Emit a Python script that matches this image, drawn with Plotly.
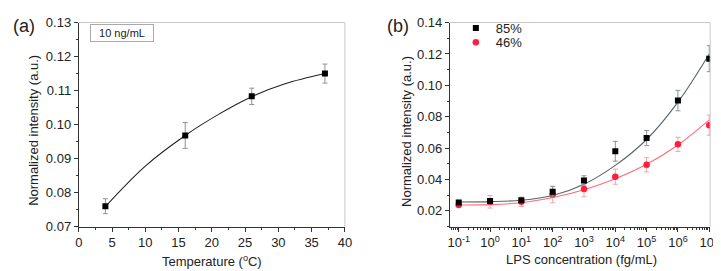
import plotly.graph_objects as go

# ---------------- data: panel (a) ----------------
temp_c = [4, 16, 26, 37]
temp_int = [0.0760, 0.0968, 0.1083, 0.1150]
temp_err = [0.0022, 0.0038, 0.0024, 0.0028]
# fitted curve
fit_a_x = [4, 10, 16, 21, 26, 31, 37]
fit_a_y = [0.0759, 0.0878, 0.0968, 0.1030, 0.1082, 0.1120, 0.1150]

# ---------------- data: panel (b) ----------------
lps_conc = [1e-1, 1e0, 1e1, 1e2, 1e3, 1e4, 1e5, 1e6, 1e7]
int_85 = [0.0254, 0.0263, 0.0268, 0.0322, 0.0394, 0.0580, 0.0664, 0.0903, 0.1170]
err_85 = [0.0008, 0.0010, 0.0010, 0.0034, 0.0030, 0.0063, 0.0048, 0.0065, 0.0083]
int_46 = [0.0238, 0.0258, 0.0258, 0.0304, 0.0340, 0.0418, 0.0494, 0.0624, 0.0746]
err_46 = [0.0010, 0.0040, 0.0030, 0.0052, 0.0050, 0.0048, 0.0045, 0.0045, 0.0064]
fit_85 = [0.0257, 0.0259, 0.0268, 0.0298, 0.0370, 0.0490, 0.0655, 0.0893, 0.1200]
fit_46 = [0.0238, 0.0240, 0.0252, 0.0285, 0.0335, 0.0405, 0.0497, 0.0620, 0.0780]
series_names = ["85%", "46%"]
log_tick_vals = [1e-1, 1e0, 1e1, 1e2, 1e3, 1e4, 1e5, 1e6, 1e7]
log_tick_text = ["10<sup>-1</sup>", "10<sup>0</sup>", "10<sup>1</sup>", "10<sup>2</sup>",
                 "10<sup>3</sup>", "10<sup>4</sup>", "10<sup>5</sup>", "10<sup>6</sup>",
                 "10<sup>7</sup>"]
minor_log_vals = [k * 10.0 ** n for n in range(-2, 8) for k in range(2, 10)]

FONT = "Liberation Sans, Arial, sans-serif"
AX = "#333333"
FRAME = "#c8c8c8"
BLACK_ERR = "#8a9494"
RED = "#ff1f3d"
RED_ERR = "#f6a3a8"
BLACK_FIT = "#56646a"
RED_FIT = "#ff6b74"

fig = go.Figure()

# panel (a)
fig.add_trace(go.Scatter(x=fit_a_x, y=fit_a_y, mode="lines", line=dict(color="#222222", width=1.1, shape="spline"),
                         xaxis="x", yaxis="y", showlegend=False, hoverinfo="skip"))
fig.add_trace(go.Scatter(x=temp_c, y=temp_int, mode="markers",
                         marker=dict(symbol="square", size=6, color="black"),
                         error_y=dict(type="data", array=temp_err, color=BLACK_ERR, thickness=1, width=2.5),
                         xaxis="x", yaxis="y", showlegend=False))

# panel (b)
fig.add_trace(go.Scatter(x=lps_conc, y=fit_85, mode="lines", line=dict(color=BLACK_FIT, width=1.1, shape="spline"),
                         xaxis="x2", yaxis="y2", showlegend=False, hoverinfo="skip"))
fig.add_trace(go.Scatter(x=lps_conc, y=fit_46, mode="lines", line=dict(color=RED_FIT, width=1.1, shape="spline"),
                         xaxis="x2", yaxis="y2", showlegend=False, hoverinfo="skip"))
fig.add_trace(go.Scatter(x=lps_conc, y=int_46, mode="markers", name=series_names[1],
                         marker=dict(symbol="circle", size=6.5, color=RED),
                         error_y=dict(type="data", array=err_46, color=RED_ERR, thickness=1, width=2.5),
                         xaxis="x2", yaxis="y2", legend="legend2"))
fig.add_trace(go.Scatter(x=lps_conc, y=int_85, mode="markers", name=series_names[0],
                         marker=dict(symbol="square", size=6, color="black"),
                         error_y=dict(type="data", array=err_85, color=BLACK_ERR, thickness=1, width=2.5),
                         xaxis="x2", yaxis="y2", legend="legend"))

tickfont = dict(family=FONT, size=13, color="#222222")
common = dict(showgrid=False, zeroline=False, showline=True, linecolor=AX, linewidth=1,
              ticks="outside", ticklen=4, tickcolor=AX, tickwidth=1, tickfont=tickfont,
              ticklabeloverflow="allow")

ydom = [47 / 271, 263 / 271]
LEG_X = 452 / 721
fig.update_layout(
    width=721, height=271,
    margin=dict(l=0, r=0, t=0, b=0),
    paper_bgcolor="white", plot_bgcolor="white",
    font=dict(family=FONT, size=13, color="#222222"),
    xaxis=dict(domain=[68 / 721, 339 / 721], range=[0, 40], tick0=0, dtick=5, anchor="y",
               minor=dict(dtick=2.5, ticks="outside", ticklen=2, tickcolor=AX), **common),
    yaxis=dict(domain=ydom, range=[0.07, 0.13], tick0=0.07, dtick=0.01, tickformat=".2f", anchor="x",
               minor=dict(dtick=0.005, ticks="outside", ticklen=2, tickcolor=AX), **common),
    xaxis2=dict(domain=[446 / 721, 711 / 721], type="log", range=[-1.28, 7.03], anchor="y2",
                tickvals=log_tick_vals, ticktext=log_tick_text,
                minor=dict(tickvals=minor_log_vals, ticks="outside", ticklen=2, tickcolor=AX), **common),
    yaxis2=dict(domain=ydom, range=[0.01, 0.14], tick0=0, dtick=0.02, tickformat=".2f", anchor="x2",
                minor=dict(dtick=0.01, ticks="outside", ticklen=2, tickcolor=AX), **common),
    legend=dict(x=LEG_X, y=1 + 2 / 271, xanchor="left", yanchor="top", bgcolor="rgba(0,0,0,0)",
                itemwidth=30, font=dict(family=FONT, size=13, color="#222222")),
    legend2=dict(x=LEG_X, y=1 - 13 / 271, xanchor="left", yanchor="top", bgcolor="rgba(0,0,0,0)",
                 itemwidth=30, font=dict(family=FONT, size=13, color="#222222")),
)

# light top/right frame
for xr, yr in (("x domain", "y domain"), ("x2 domain", "y2 domain")):
    fig.add_shape(type="line", xref=xr, yref=yr, x0=0, x1=1, y0=1, y1=1, line=dict(color=FRAME, width=1))
    fig.add_shape(type="line", xref=xr, yref=yr, x0=1, x1=1, y0=0, y1=1, line=dict(color=FRAME, width=1))

def ann(text, x, y, size=13, angle=0, **kw):
    fig.add_annotation(text=text, x=x / 721, y=1 - y / 271, xref="paper", yref="paper", showarrow=False,
                       textangle=angle, font=dict(family=FONT, size=size, color="#222222"),
                       xanchor=kw.pop("xanchor", "center"), yanchor=kw.pop("yanchor", "middle"), **kw)

ann("(a)", 12, 12, size=18)
ann("(b)", 393, 12, size=18)
ann("Normalized intensity (a.u.)", 22, 122, angle=-90)
ann("Normalized intensity (a.u.)", 401, 123, angle=-90)
ann("Temperature (<sup>o</sup>C)", 204, 260)
ann("LPS concentration (fg/mL)", 580, 259)
ann("10 ng/mL", 79, 19, size=11, xanchor="left", bordercolor="#aaaaaa", borderwidth=1,
    borderpad=2, width=58, align="center", bgcolor="white")

fig.write_html("out.html")
